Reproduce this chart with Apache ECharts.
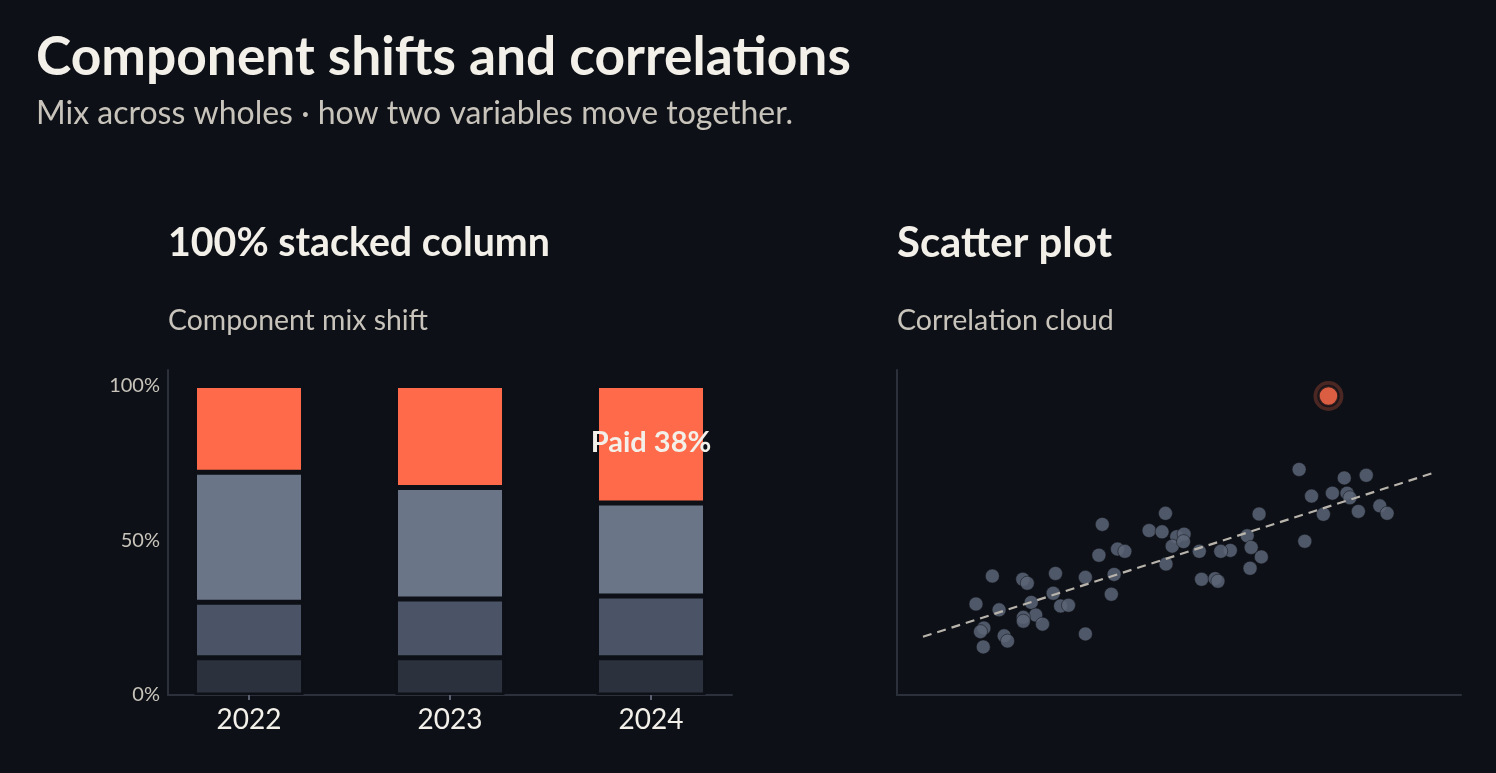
<!DOCTYPE html>
<html>
<head>
<meta charset="utf-8">
<script src="https://cdn.jsdelivr.net/npm/echarts@6/dist/echarts.min.js"></script>
<style>
  html, body { margin: 0; padding: 0; background: #0d1016; }
  #chart { width: 1496px; height: 773px; }
</style>
</head>
<body>
<div id="chart"></div>
<script>
// component mix, share of total per year (%)
const years = ['2022', '2023', '2024'];
const baseShare = [12, 12, 12];
const coreShare = [18, 19, 20];
const plusShare = [42, 36, 30];
const paidShare = [28, 33, 38];
const shareTicks = [0, 50, 100];

// correlation cloud (arbitrary 0-100 units)
const cloudX = [36.4, 47.6, 44.7, 47.0, 49.6, 48.8, 47.7, 39.1, 40.4, 35.8, 38.5, 38.0, 33.4, 33.4,
    28.1, 27.7, 29.0, 30.4, 22.3, 23.1, 23.8, 24.6, 25.8, 22.4, 22.4, 16.9, 14.0, 18.1, 15.4, 14.8,
    15.3, 19.0, 19.6, 71.3, 79.3, 83.2, 73.5, 77.2, 79.8, 80.3, 75.6, 81.8, 85.6, 86.9, 72.3, 64.2,
    62.1, 62.8, 64.6, 62.6, 59.1, 57.4, 53.6, 54.0, 56.4, 56.9, 50.9, 50.8];
const cloudY = [52.5, 55.9, 50.6, 50.2, 48.7, 45.8, 40.3, 44.9, 44.2, 43.0, 37.1, 31.0, 36.2, 18.8,
    37.4, 31.3, 27.4, 27.6, 35.6, 34.4, 28.5, 24.6, 21.8, 23.9, 22.7, 36.6, 28.0, 26.2, 20.6, 19.5,
    14.8, 18.2, 16.6, 69.4, 66.8, 67.6, 61.2, 62.1, 62.1, 60.7, 55.6, 56.5, 58.2, 55.9, 47.3, 55.7,
    49.0, 45.4, 42.5, 39.0, 44.5, 44.2, 44.2, 35.6, 35.8, 35.0, 49.5, 47.2];
const outlier = [76.5, 92.0];
const trendX = [4.6, 95.2];
const trendY = [17.9, 68.4];

const BG = '#0d1016';
const INK = '#f3f0ea';
const MUTED = '#c8c4bb';
const AXIS = '#2b303b';
const ACCENT = '#ff6b4a';
const FONT = 'Lato';

// pick a font size so a text fills the same width as in the reference
var measureCtx = document.createElement('canvas').getContext('2d');
function fitSize(text, weight, width) {
    measureCtx.font = weight + ' 100px ' + FONT;
    return Math.round(100 * width / measureCtx.measureText(text).width * 10) / 10;
}

function label(text, x, y, weight, width, color) {
    var size = fitSize(text, weight, width);
    return {
        type: 'text',
        style: {
            text: text, x: x, y: y,
            font: weight + ' ' + size + 'px ' + FONT,
            fill: color, textVerticalAlign: 'middle'
        }
    };
}

const chart = echarts.init(document.getElementById('chart'));

function stackSeries(name, data, color) {
    return {
        name: name,
        type: 'bar',
        stack: 'mix',
        xAxisIndex: 0,
        yAxisIndex: 0,
        barWidth: 109,
        data: data,
        itemStyle: { color: color, borderColor: BG, borderWidth: 2.5 },
        emphasis: { disabled: true }
    };
}

var paidData = paidShare.map(function (v, i) {
    if (i !== paidShare.length - 1) return v;
    return {
        value: v,
        label: {
            show: true,
            position: 'inside',
            formatter: 'Paid ' + v + '%',
            color: INK,
            fontFamily: FONT,
            fontWeight: 'bold',
            fontSize: 29,
            offset: [0, -2]
        }
    };
});

var cloud = cloudX.map(function (x, i) { return [x, cloudY[i]]; });

// plain axis: only draws a line, no ticks or labels
function bareAxis(gridIndex, max, showLine) {
    return {
        gridIndex: gridIndex,
        type: 'value',
        min: 0,
        max: max,
        axisLine: { show: showLine, lineStyle: { color: AXIS, width: 2 } },
        axisTick: { show: false },
        axisLabel: { show: false },
        splitLine: { show: false }
    };
}

const option = {
    backgroundColor: BG,
    animation: false,
    textStyle: { fontFamily: FONT },
    graphic: [
        label('Component shifts and correlations', 36, 58, 'bold', 815, INK),
        label('Mix across wholes \u00b7 how two variables move together.', 36, 114, 'normal', 757, MUTED),
        label('100% stacked column', 168, 243, 'bold', 382, INK),
        label('Component mix shift', 168, 321, 'normal', 260, MUTED),
        label('Scatter plot', 897, 243, 'bold', 215, INK),
        label('Correlation cloud', 897, 321, 'normal', 217, MUTED)
    ],
    grid: [
        // columns: bands are wider than the drawn frame
        { left: 148.5, top: 370, width: 603, height: 325 },
        { left: 897, top: 370, width: 564, height: 325 },
        // frame of the column chart
        { left: 168, top: 370, width: 564, height: 325 }
    ],
    xAxis: [
        {
            gridIndex: 0,
            type: 'category',
            data: years,
            axisLine: { show: false },
            axisTick: { show: true, alignWithLabel: true, length: 5, lineStyle: { color: '#5a6070', width: 2 } },
            axisLabel: { color: INK, fontSize: 28, margin: 11, fontFamily: FONT }
        },
        bareAxis(1, 100, true),
        bareAxis(2, 100, true)
    ],
    yAxis: [
        bareAxis(0, 105, false),
        bareAxis(1, 100, true),
        {
            gridIndex: 2,
            type: 'value',
            min: 0,
            max: 105,
            axisLine: { show: true, lineStyle: { color: AXIS, width: 2 } },
            axisTick: { show: false },
            splitLine: { show: false },
            axisLabel: {
                customValues: shareTicks,
                color: MUTED,
                fontSize: 20,
                margin: 8,
                fontFamily: FONT,
                formatter: function (v) { return v + '%'; }
            }
        }
    ],
    series: [
        stackSeries('Base', baseShare, '#2c313e'),
        stackSeries('Core', coreShare, '#4a5466'),
        stackSeries('Plus', plusShare, '#6b7588'),
        stackSeries('Paid', paidData, ACCENT),
        {
            name: 'Cloud',
            type: 'scatter',
            xAxisIndex: 1,
            yAxisIndex: 1,
            data: cloud,
            symbolSize: 14,
            itemStyle: { color: '#5c6577', opacity: 0.85, borderColor: 'rgba(13,16,22,0.6)', borderWidth: 1 },
            z: 2
        },
        {
            name: 'Trend',
            type: 'line',
            xAxisIndex: 1,
            yAxisIndex: 1,
            data: trendX.map(function (x, i) { return [x, trendY[i]]; }),
            symbol: 'none',
            lineStyle: { color: '#b8b4ac', width: 2.2, type: [9, 6] },
            z: 3
        },
        {
            name: 'Halo',
            type: 'scatter',
            xAxisIndex: 1,
            yAxisIndex: 1,
            data: [outlier],
            symbolSize: 30,
            itemStyle: { color: 'rgba(255,107,74,0.32)' },
            z: 4
        },
        {
            name: 'Outlier',
            type: 'scatter',
            xAxisIndex: 1,
            yAxisIndex: 1,
            data: [outlier],
            symbolSize: 20,
            itemStyle: { color: ACCENT, borderColor: BG, borderWidth: 2.5 },
            z: 5
        }
    ]
};

chart.setOption(option);
</script>
</body>
</html>
